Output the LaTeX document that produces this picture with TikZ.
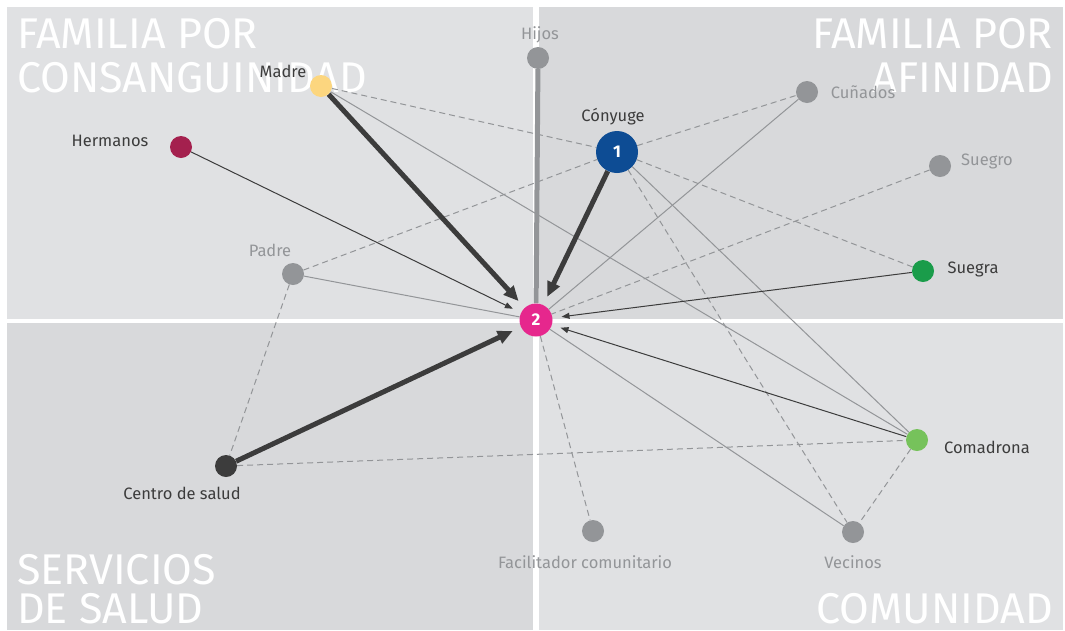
\documentclass[tikz,border=0pt]{standalone}
\usepackage{fontspec}
\setmainfont{Fira Sans}
\usetikzlibrary{arrows.meta}
\definecolor{bgA}{HTML}{E0E1E3}
\definecolor{bgB}{HTML}{D8D9DB}
\definecolor{ink}{HTML}{3C3C3C}
\definecolor{mid}{HTML}{939598}
\definecolor{rosa}{HTML}{E6278D}
\definecolor{azul}{HTML}{0D4C94}
\definecolor{amarillo}{HTML}{FCD67F}
\definecolor{granate}{HTML}{A4204E}
\definecolor{verde}{HTML}{1A9C4A}
\definecolor{verdeclaro}{HTML}{76C25B}
\pgfdeclarelayer{quads}
\pgfdeclarelayer{ties}
\pgfsetlayers{quads,ties,main}
\tikzset{
    dot/.style={circle, fill=#1, minimum size=22pt, inner sep=0pt},
    bigdot/.style={dot=#1, text=white, font=\bfseries\fontsize{17}{17}\selectfont},
    lbl/.style={text=ink, font=\fontsize{16.5}{18}\selectfont, inner sep=0pt},
    lblgray/.style={lbl, text=mid},
    title/.style={text=white, font=\fontsize{43}{46}\selectfont, inner sep=0pt},
    strong/.style={ink, line width=5pt, -{Triangle[length=15pt,width=13pt]}, shorten >=9pt},
    weak/.style={ink, line width=1pt, -{Triangle[length=8pt,width=6pt]}, shorten >=9pt},
    plain/.style={mid, line width=1pt},
    dashtie/.style={mid, line width=1pt, dash pattern=on 6pt off 4pt}
}
\begin{document}
\begin{tikzpicture}[x=1pt,y=-1pt]
    \useasboundingbox (0,0) rectangle (1065,630);
    % quadrants
    \begin{pgfonlayer}{quads}
        \fill[bgA] (7,7) rectangle (533,319);
        \fill[bgB] (539,7) rectangle (1063,319);
        \fill[bgB] (7,323) rectangle (533,630);
        \fill[bgA] (539,323) rectangle (1063,630);
        % quadrant titles
        \node[title, anchor=base west] (tl1) at (17,48) {FAMILIA POR};
        \node[title, anchor=base west] (tl2) at (17,92) {CONSANGUINIDAD};
        \node[title, anchor=base east] (tr1) at (1053,48) {FAMILIA POR};
        \node[title, anchor=base east] (tr2) at (1053,92) {AFINIDAD};
        \node[title, anchor=base west] (bl1) at (17,584) {SERVICIOS};
        \node[title, anchor=base west] (bl2) at (17,623) {DE SALUD};
        \node[title, anchor=base east] (br1) at (1053,623) {COMUNIDAD};
    \end{pgfonlayer}
    % actors
    \node[bigdot=rosa, minimum size=33pt] (two) at (536,320) {2};
    \node[bigdot=azul, minimum size=42pt] (conyuge) at (617,152) {1};
    \node[dot=mid] (hijos) at (538,58) {};
    \node[dot=amarillo] (madre) at (321,86) {};
    \node[dot=granate] (hermanos) at (181,147) {};
    \node[dot=mid] (padre) at (293,274) {};
    \node[dot=ink] (centro) at (226,466) {};
    \node[dot=mid] (facilitador) at (593,531) {};
    \node[dot=mid] (vecinos) at (853,532) {};
    \node[dot=verdeclaro] (comadrona) at (917,440) {};
    \node[dot=verde] (suegra) at (923,271) {};
    \node[dot=mid] (suegro) at (940,166) {};
    \node[dot=mid] (cunados) at (807,92) {};
    % ties
    \begin{pgfonlayer}{ties}
        \draw[dashtie] (madre) -- (conyuge);
        \draw[dashtie] (padre) -- (conyuge);
        \draw[dashtie] (conyuge) -- (cunados);
        \draw[dashtie] (conyuge) -- (suegra);
        \draw[dashtie] (conyuge) -- (vecinos);
        \draw[dashtie] (suegro) -- (two);
        \draw[dashtie] (padre) -- (centro);
        \draw[dashtie] (centro) -- (comadrona);
        \draw[dashtie] (comadrona) -- (vecinos);
        \draw[dashtie] (two) -- (facilitador);
        \draw[plain] (padre) -- (two);
        \draw[plain] (cunados) -- (two);
        \draw[plain] (two) -- (vecinos);
        \draw[plain] (madre) -- (comadrona);
        \draw[plain] (conyuge) -- (comadrona);
        \draw[mid, line width=5pt] (hijos) -- (two);
        \draw[weak] (hermanos) -- (two);
        \draw[weak] (suegra) -- (two);
        \draw[weak] (comadrona) -- (two);
        \draw[strong] (madre) -- (two);
        \draw[strong] (conyuge) -- (two);
        \draw[strong] (centro) -- (two);
    \end{pgfonlayer}
    % names
    \node[lblgray] (hijosL) at (540,35) {Hijos};
    \node[lbl] (madreL) at (283,71) {Madre};
    \node[lbl] (hermanosL) at (110,141) {Hermanos};
    \node[lbl] (conyugeL) at (613,117) {Cónyuge};
    \node[lblgray] (cunadosL) at (863,92) {Cuñados};
    \node[lblgray] (suegroL) at (987,161) {Suegro};
    \node[lbl] (suegraL) at (973,269) {Suegra};
    \node[lblgray] (padreL) at (270,250) {Padre};
    \node[lbl] (comadronaL) at (987,447) {Comadrona};
    \node[lbl] (centroL) at (182,493) {Centro de salud};
    \node[lblgray] (facilitadorL) at (585,562) {Facilitador comunitario};
    \node[lblgray] (vecinosL) at (853,562) {Vecinos};
\end{tikzpicture}
\end{document}
